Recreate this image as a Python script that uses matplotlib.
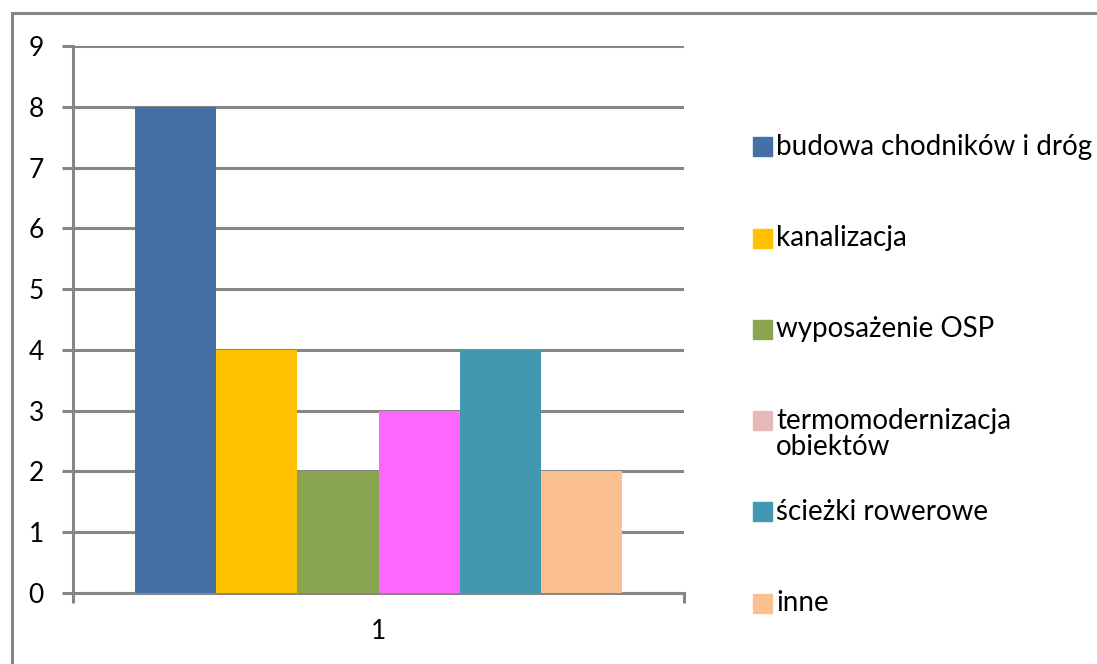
import matplotlib.pyplot as plt
from matplotlib.patches import Rectangle

categories = ['budowa chodników i dróg', 'kanalizacja', 'wyposażenie OSP',
              'termomodernizacja\nobiektów', 'ścieżki rowerowe', 'inne']
values = [8, 4, 2, 3, 4, 2]
bar_colors = ['#4570A6', '#FFC000', '#8AA54F', '#FF66FF', '#4298B0', '#FAC090']
legend_colors = ['#4570A6', '#FFC000', '#8AA54F', '#E6B8B7', '#4298B0', '#FAC090']
yticks = list(range(10))

plt.rcParams['font.family'] = ['Lato', 'DejaVu Sans']
grey = '#868686'
W, H = 1097, 664
fs = 19

fig = plt.figure(figsize=(W / 100, H / 100), dpi=100)
ax = fig.add_axes([73 / W, (H - 593) / H, (684 - 73) / W, (593 - 46) / H])

# outer frame of the chart
fig.patches.append(Rectangle((11.5 / W, -0.1), 1.2, 1.1 - 13.5 / H,
                             transform=fig.transFigure, fill=False,
                             edgecolor=grey, linewidth=2.2, zorder=0))

w = 0.133
n = len(values)
for i, (v, c) in enumerate(zip(values, bar_colors)):
    x = 1 + (i - (n - 1) / 2) * w
    ax.bar(x, v, width=w, color=c, zorder=3)

ax.set_xlim(0.5, 1.5)
ax.set_ylim(0, 9)
ax.set_yticks(yticks)
ax.set_yticklabels([str(t) for t in yticks], fontsize=fs)
ax.yaxis.grid(True, color=grey, linewidth=2.2, zorder=0)
ax.set_axisbelow(True)

ax.set_xticks([1])
ax.set_xticklabels(['1'], fontsize=fs)
ax.set_xticks([0.5, 1.5], minor=True)
ax.tick_params(axis='x', which='major', length=0, pad=19)
ax.tick_params(axis='x', which='minor', length=7, width=2.2, color=grey, direction='out')
ax.tick_params(axis='y', length=8, width=2.2, color=grey, direction='out', pad=13)

for side in ['top', 'right']:
    ax.spines[side].set_visible(False)
for side in ['left', 'bottom']:
    ax.spines[side].set_color(grey)
    ax.spines[side].set_linewidth(2.2)

# legend on the right
y0, step = 147, 91.2
for i, (lab, c) in enumerate(zip(categories, legend_colors)):
    yc = y0 + i * step
    fig.patches.append(Rectangle((753 / W, 1 - (yc + 9.5) / H), 19 / W, 19 / H,
                                 transform=fig.transFigure, color=c))
    for j, line in enumerate(lab.split('\n')):
        fig.text(776 / W, 1 - (yc + j * 26) / H, line, fontsize=20,
                 va='center', ha='left')

fig.savefig('out.png', dpi=100)
